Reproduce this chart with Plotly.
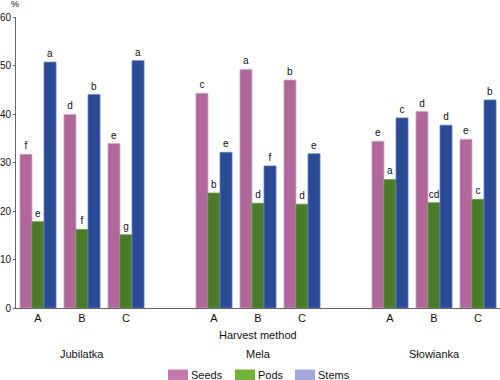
import plotly.graph_objects as go

varieties = ["Jubilatka", "Mela", "Słowianka"]
methods = ["A", "B", "C"]
series = ["Seeds", "Pods", "Stems"]

seeds = [31.7, 39.9, 33.9, 44.3, 49.2, 47.0, 34.4, 40.5, 34.8]
pods = [17.8, 16.2, 15.1, 23.7, 21.6, 21.4, 26.5, 21.7, 22.4]
stems = [50.7, 44.0, 51.0, 32.1, 29.3, 31.8, 39.2, 37.7, 42.9]

seeds_letters = ["f", "d", "e", "c", "a", "b", "e", "d", "e"]
pods_letters = ["e", "f", "g", "b", "d", "d", "a", "cd", "c"]
stems_letters = ["a", "b", "a", "e", "f", "e", "c", "d", "b"]

bar_colors = ["#b0679a", "#4a7b29", "#2b4a96"]
line_colors = ["#d8a8c8", "#6a9a48", "#6a80c0"]
legend_colors = ["#c47aac", "#72b236", "#a2aadc"]

# x positions: each variety occupies 3 slots, one empty slot between varieties
xpos = [g * 4 + m for g in range(len(varieties)) for m in range(len(methods))]
xtext = [methods[m] for g in range(len(varieties)) for m in range(len(methods))]

font = "Liberation Sans, Arial, sans-serif"

fig = go.Figure()
for name, vals, letters, c, lc in zip(series, [seeds, pods, stems],
                                      [seeds_letters, pods_letters, stems_letters],
                                      bar_colors, line_colors):
    fig.add_trace(go.Bar(
        x=xpos, y=vals, name=name, text=letters, textposition="outside",
        textfont=dict(family=font, size=10, color="#111111"),
        marker=dict(color=c, line=dict(color=lc, width=0.8)),
        cliponaxis=False, showlegend=False,
    ))

annotations = []
# variety labels
for g, v in enumerate(varieties):
    annotations.append(dict(x=g * 4 + 1, y=0, xref="x", yref="paper", text=v,
                            showarrow=False, yanchor="middle", yshift=-46,
                            font=dict(family=font, size=11, color="#111111")))
annotations.append(dict(x=5, y=0, xref="x", yref="paper", text="Harvest method",
                        showarrow=False, yanchor="middle", yshift=-27,
                        font=dict(family=font, size=11, color="#111111")))
annotations.append(dict(x=0, y=1, xref="paper", yref="paper", text="%",
                        showarrow=False, xanchor="center", yanchor="bottom",
                        xshift=-1, yshift=6,
                        font=dict(family=font, size=9, color="#111111")))

# legend drawn manually (swatches wider than Plotly's default)
shapes = []
W, H = 484.0, 291.0
leg_x = [168, 235, 295]  # pixel left of swatches
for name, px, c in zip(series, leg_x, legend_colors):
    x0 = (px - 16) / W
    x1 = (px + 20 - 16) / W
    y0 = (308 - 380) / H
    y1 = (308 - 369.5) / H
    shapes.append(dict(type="rect", xref="paper", yref="paper", x0=x0, x1=x1,
                       y0=y0, y1=y1, fillcolor=c, line=dict(width=0)))
    annotations.append(dict(x=x1, y=(y0 + y1) / 2, xref="paper", yref="paper",
                            text=name, showarrow=False, xanchor="left",
                            yanchor="middle", xshift=1,
                            font=dict(family=font, size=11, color="#111111")))

fig.update_layout(
    width=500, height=380,
    margin=dict(l=16, r=0, t=17, b=72, autoexpand=False),
    paper_bgcolor="white", plot_bgcolor="white",
    barmode="group", bargap=0.18, bargroupgap=0,
    annotations=annotations, shapes=shapes,
    font=dict(family=font, size=11, color="#111111"),
    xaxis=dict(range=[-0.5, 10.5], tickvals=xpos, ticktext=xtext,
               showgrid=False, zeroline=False, showline=True, automargin=False,
               linecolor="#666666", linewidth=1, ticks="",
               tickfont=dict(family=font, size=11, color="#111111")),
    yaxis=dict(range=[0, 60], dtick=10, showgrid=False, zeroline=False,
               showline=True, linecolor="#666666", linewidth=1, automargin=False,
               ticks="outside", ticklen=2, tickcolor="#666666",
               tickfont=dict(family=font, size=10, color="#111111")),
)

fig.write_html("out.html", config={"displayModeBar": False},
               post_script="document.body.style.margin='0';")
